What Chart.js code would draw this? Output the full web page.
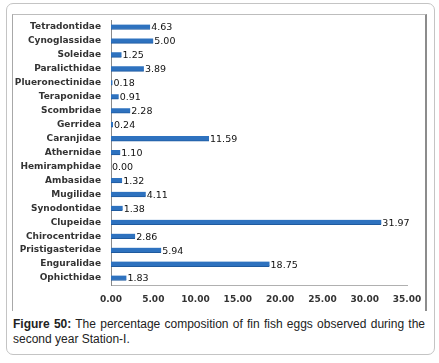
<!DOCTYPE html>
<html>
<head>
<meta charset="utf-8">
<script src="https://cdn.jsdelivr.net/npm/chart.js@4/dist/chart.umd.min.js"></script>
<style>
  html, body { margin: 0; padding: 0; background: #fff; }
  body { width: 439px; height: 363px; position: relative; overflow: hidden; }
  .outer {
    position: absolute; left: 6px; top: 3px; width: 427px; height: 350px;
    border: 1px solid #c4c4c4; border-radius: 7px;
  }
  .frame {
    position: absolute; left: 12px; top: 14px; width: 412px; height: 296px;
    border-left: 1px solid #a8a8a8; border-top: 1px solid #bdbdbd;
    border-right: 2px solid #8c8c8c;
  }
  .frame canvas { position: absolute; left: 0; top: 0; }
  .caption {
    position: absolute; left: 13px; top: 317px; width: 412px;
    font-family: "Liberation Sans", Arial, sans-serif; font-size: 12px;
    line-height: 15px; color: #222; text-align: justify;
  }
</style>
</head>
<body>
<div class="outer"></div>
<div class="frame"><canvas id="eggChart" width="412" height="296"></canvas></div>
<div class="caption"><b>Figure 50:</b> The percentage composition of fin fish eggs observed during the second year Station-I.</div>
<script>
// families, top to bottom as in the figure
const families = ['Tetradontidae', 'Cynoglassidae', 'Soleidae', 'Paralicthidae', 'Plueronectinidae',
  'Teraponidae', 'Scombridae', 'Gerridea', 'Caranjidae', 'Athernidae', 'Hemiramphidae', 'Ambasidae',
  'Mugilidae', 'Synodontidae', 'Clupeidae', 'Chirocentridae', 'Pristigasteridae', 'Enguralidae', 'Ophicthidae'];
const percentages = [4.63, 5.00, 1.25, 3.89, 0.18, 0.91, 2.28, 0.24, 11.59, 1.10, 0.00, 1.32,
  4.11, 1.38, 31.97, 2.86, 5.94, 18.75, 1.83];
const xTicks = [0, 5, 10, 15, 20, 25, 30, 35];

// value labels at the end of each bar
const valueLabels = {
  id: 'valueLabels',
  afterDatasetsDraw(chart) {
    const ctx = chart.ctx;
    const meta = chart.getDatasetMeta(0);
    ctx.save();
    ctx.font = '9.5px "DejaVu Sans", Verdana, sans-serif';
    ctx.fillStyle = '#111';
    ctx.textBaseline = 'middle';
    meta.data.forEach((bar, i) => {
      ctx.fillText(percentages[i].toFixed(2), bar.x + 1, bar.y + 1);
    });
    ctx.restore();
  }
};

const ctx = document.getElementById('eggChart').getContext('2d');
new Chart(ctx, {
  type: 'bar',
  data: {
    labels: families,
    datasets: [{
      data: percentages,
      backgroundColor: '#2e72bf',
      borderColor: '#1f5a9e',
      borderWidth: { top: 0, bottom: 1, left: 0, right: 0 },
      barThickness: 5
    }]
  },
  options: {
    indexAxis: 'y',
    responsive: false,
    animation: false,
    layout: { padding: { top: 5, right: 18, bottom: 0, left: 0 } },
    plugins: {
      legend: { display: false },
      tooltip: { enabled: false }
    },
    scales: {
      x: {
        min: 0, max: 35,
        afterBuildTicks(scale) { scale.ticks = xTicks.map(v => ({ value: v })); },
        afterFit(scale) {
          scale.height = 26;
          scale.paddingLeft = 0;
          scale.paddingRight = 0;
        },
        grid: { display: false, drawTicks: false },
        border: { display: true, color: '#b0b0b0' },
        ticks: {
          padding: 9,
          color: '#333',
          font: { family: '"DejaVu Sans", Verdana, sans-serif', size: 9, weight: 'bold' },
          callback: v => Number(v).toFixed(2)
        }
      },
      y: {
        afterFit(scale) {
          scale.width = 98;
          scale.paddingTop = 0;
          scale.paddingBottom = 0;
        },
        grid: { display: false, drawTicks: false },
        border: { display: true, color: '#8a8a8a' },
        ticks: {
          padding: 10,
          color: '#333',
          font: { family: '"DejaVu Sans", Verdana, sans-serif', size: 9, weight: 'bold' },
          autoSkip: false
        }
      }
    }
  },
  plugins: [valueLabels]
});
</script>
</body>
</html>
